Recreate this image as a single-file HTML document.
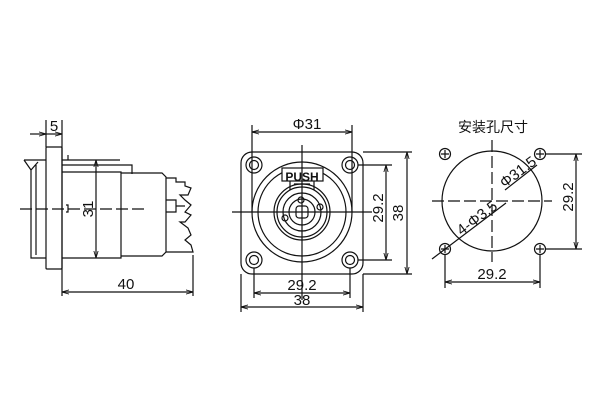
<!DOCTYPE html>
<html><head><meta charset="utf-8"><style>body{margin:0;background:#fff}svg{display:block}text{font-family:"Liberation Sans","Noto Sans CJK SC",sans-serif;fill:#111}</style></head>
<body><svg width="600" height="400" viewBox="0 0 600 400" xmlns="http://www.w3.org/2000/svg">
<defs><marker id="a" viewBox="0 0 10 10" refX="10" refY="5" markerWidth="6" markerHeight="6" orient="auto-start-reverse"><path d="M0,2 L10,5 L0,8" fill="none" stroke="#111" stroke-width="1.2"/></marker></defs>
<g fill="none" stroke="#111" stroke-width="1.2">
<!-- side view -->
<path d="M24,160 L46,160 M24,160 L31,170 L38,162 M31,170 L31,258 L46,258 M36,165 L36,255"/>
<rect x="46" y="147" width="16" height="122" rx="1"/>
<path d="M62,160 L120,160 M68,155 L68,160 M62,165 L132,165 L132,174 M62,172 L121,172 L121,258 L62,258"/>
<path d="M121,173 L162,173 L166,177 L166,252 L162,256 L121,256"/>
<path d="M166,178 L176,178 L176,182 L185,182 L185,186 L191,188 L188,195 L180,195 L185,200 L191,205 L185,212 L191,215 L185,222 L180,222 L188,228 L191,235 L185,240 L191,245 L193,252 L166,252"/>
<path d="M166,200 L176,200 L176,212 L166,212 M176,206 L185,206"/>
<path d="M66,205 L68,205 L68,212 L66,212"/>
<path d="M20,209 L148,209" stroke-dasharray="12,4"/>
<path d="M46,120 L46,147 M62,120 L62,296 M193,255 L193,296"/>
<path d="M30,134 L46,134" marker-end="url(#a)"/><path d="M62,134 L46,134" marker-start="url(#a)"/>
<path d="M96,160 L96,258" marker-start="url(#a)" marker-end="url(#a)"/>
<path d="M62,292 L193,292" marker-start="url(#a)" marker-end="url(#a)"/>
<!-- front view -->
<rect x="241" y="152" width="122" height="122" rx="11"/>
<circle cx="254" cy="165" r="8"/><circle cx="254" cy="165" r="4.5"/>
<circle cx="350" cy="165" r="8"/><circle cx="350" cy="165" r="4.5"/>
<circle cx="254" cy="260" r="8"/><circle cx="254" cy="260" r="4.5"/>
<circle cx="350" cy="260" r="8"/><circle cx="350" cy="260" r="4.5"/>
<circle cx="302" cy="212" r="50"/><circle cx="302" cy="212" r="44"/>
<circle cx="302" cy="212" r="28"/><circle cx="302" cy="212" r="25"/><circle cx="302" cy="212" r="19"/><circle cx="302" cy="212" r="13"/>
<rect x="296" y="206" width="12" height="12" rx="3"/>
<circle cx="285" cy="218" r="3"/><circle cx="320" cy="207" r="3"/><circle cx="301" cy="200" r="3"/>
<path d="M290,181 L290,190 M314,181 L314,190 M294,184 L310,184"/>
<rect x="282" y="168" width="41" height="13" fill="#fff"/>
<path d="M232,212 L372,212 M302,145 L302,300"/>
<path d="M252,125 L252,212 M352,125 L352,212"/>
<path d="M252,132 L352,132" marker-start="url(#a)" marker-end="url(#a)"/>
<path d="M358,165 L392,165 M358,260 L392,260 M363,152 L412,152 M363,274 L412,274"/>
<path d="M386,165 L386,260" marker-start="url(#a)" marker-end="url(#a)"/>
<path d="M407,152 L407,274" marker-start="url(#a)" marker-end="url(#a)"/>
<path d="M254,268 L254,298 M350,268 L350,298 M241,274 L241,312 M363,274 L363,312"/>
<path d="M254,293 L350,293" marker-start="url(#a)" marker-end="url(#a)"/>
<path d="M241,307 L363,307" marker-start="url(#a)" marker-end="url(#a)"/>
<!-- mounting -->
<circle cx="492" cy="201" r="50"/>
<path d="M432,201 L552,201 M492,140 L492,262" stroke-dasharray="12,4"/>
<g><circle cx="445" cy="154" r="5.5"/><path d="M441,154 L449,154 M445,150 L445,158"/></g>
<g><circle cx="540" cy="154" r="5.5"/><path d="M536,154 L544,154 M540,150 L540,158"/></g>
<g><circle cx="445" cy="249" r="5.5"/><path d="M441,249 L449,249 M445,245 L445,253"/></g>
<g><circle cx="540" cy="249" r="5.5"/><path d="M536,249 L544,249 M540,245 L540,253"/></g>
<path d="M432,259 L506,203"/><path d="M505,190 L537,165"/>
<path d="M546,154 L582,154 M546,249 L582,249"/>
<path d="M576,154 L576,249" marker-start="url(#a)" marker-end="url(#a)"/>
<path d="M445,255 L445,288 M540,255 L540,288"/>
<path d="M445,282 L540,282" marker-start="url(#a)" marker-end="url(#a)"/>
</g>
<g font-size="15" text-anchor="middle">
<text x="54" y="131">5</text>
<text x="126" y="289">40</text>
<text x="96" y="209" transform="rotate(-90 96 209)" dy="-3">31</text>
<text x="307" y="129">Φ31</text>
<text x="302" y="181" font-size="12" font-weight="bold">PUSH</text>
<text x="378" y="208" transform="rotate(-90 378 208)" dy="5">29.2</text>
<text x="398" y="213" transform="rotate(-90 398 213)" dy="5">38</text>
<text x="302" y="290">29.2</text>
<text x="302" y="305">38</text>
<text x="493" y="132" font-size="14">安装孔尺寸</text>
<text x="568" y="197" transform="rotate(-90 568 197)" dy="5">29.2</text>
<text x="492" y="279">29.2</text>
<text x="480" y="222" transform="rotate(-37 480 222)">4-Φ3.5</text>
<text x="521" y="176" transform="rotate(-37 521 176)">Φ31.5</text>
</g>
</svg></body></html>
